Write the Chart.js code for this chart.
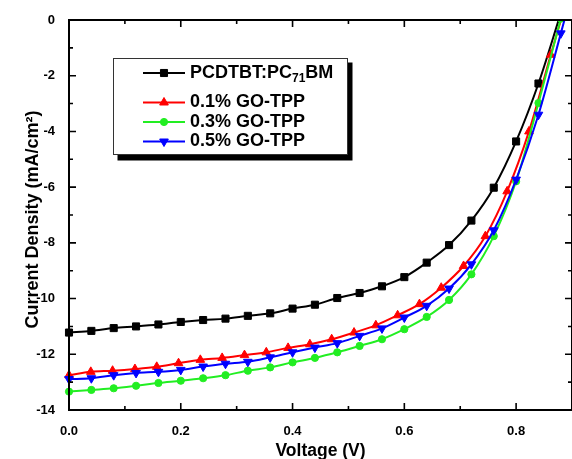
<!DOCTYPE html>
<html>
<head>
<meta charset="utf-8">
<script src="https://cdn.jsdelivr.net/npm/chart.js@4.4.1/dist/chart.umd.min.js"></script>
<style>
  html, body { margin: 0; padding: 0; background: #fff; }
  canvas { display: block; }
</style>
</head>
<body>
<canvas id="c" width="572" height="459"></canvas>
<script>
// ---- data ----
const seriesLabels = ['PCDTBT:PC71BM', '0.1% GO-TPP', '0.3% GO-TPP', '0.5% GO-TPP'];
const voltage = [0, 0.04, 0.08, 0.12, 0.16, 0.20, 0.24, 0.28, 0.32, 0.36, 0.40, 0.44,
                 0.48, 0.52, 0.56, 0.60, 0.64, 0.68, 0.72, 0.76, 0.80, 0.84, 0.88, 0.92];
const voltageRed = [0, 0.039, 0.078, 0.118, 0.157, 0.196, 0.235, 0.274, 0.314, 0.353, 0.392, 0.431,
                    0.470, 0.510, 0.549, 0.588, 0.627, 0.666, 0.706, 0.745, 0.784, 0.823, 0.862, 0.902];
const jBlack = [-11.22, -11.16, -11.06, -11.00, -10.93, -10.84, -10.77, -10.72, -10.62, -10.53, -10.36, -10.22,
                -9.98, -9.80, -9.56, -9.23, -8.71, -8.08, -7.20, -6.02, -4.36, -2.28, 0.25];
const jRed = [-12.75, -12.63, -12.59, -12.53, -12.45, -12.32, -12.20, -12.13, -12.03, -11.93, -11.77, -11.64,
              -11.46, -11.22, -10.96, -10.60, -10.20, -9.61, -8.83, -7.76, -6.15, -4.00, -1.25, 1.50];
const jGreen = [-13.34, -13.28, -13.22, -13.13, -13.03, -12.95, -12.86, -12.75, -12.59, -12.47, -12.29, -12.13,
                -11.93, -11.70, -11.46, -11.10, -10.66, -10.05, -9.13, -7.76, -5.79, -2.98, 0.05];
const jBlue = [-12.89, -12.86, -12.75, -12.67, -12.63, -12.56, -12.44, -12.34, -12.27, -12.11, -11.93, -11.76,
               -11.60, -11.34, -11.07, -10.68, -10.26, -9.64, -8.77, -7.55, -5.73, -3.40, -0.48, 2.50];
const xTicks = [0, 0.1, 0.2, 0.3, 0.4, 0.5, 0.6, 0.7, 0.8, 0.9];
const xTickLabels = ['0.0', '', '0.2', '', '0.4', '', '0.6', '', '0.8', ''];
const yTicks = [-14, -13, -12, -11, -10, -9, -8, -7, -6, -5, -4, -3, -2, -1, 0];
const yTickLabels = ['-14', '', '-12', '', '-10', '', '-8', '', '-6', '', '-4', '', '-2', '', '0'];

const FONT = '"Liberation Sans", Arial, Helvetica, sans-serif';

function pts(xs, ys) { return ys.map((v, i) => ({ x: xs[i], y: v })); }

const styles = [
  { color: '#000000', pointStyle: 'rect', r: 5, rot: 0 },
  { color: '#ff0000', pointStyle: 'triangle', r: 5, rot: 0 },
  { color: '#22ee22', pointStyle: 'circle', r: 3.6, rot: 0 },
  { color: '#0000ff', pointStyle: 'triangle', r: 5, rot: 180 }
];
const seriesData = [pts(voltage, jBlack), pts(voltageRed, jRed), pts(voltage, jGreen), pts(voltage, jBlue)];

const datasets = seriesLabels.map((lab, i) => ({
  label: lab,
  data: seriesData[i],
  borderColor: styles[i].color,
  backgroundColor: styles[i].color,
  pointBackgroundColor: styles[i].color,
  pointBorderColor: styles[i].color,
  pointStyle: styles[i].pointStyle,
  pointRotation: styles[i].rot,
  pointRadius: styles[i].r,
  pointBorderWidth: 1,
  borderWidth: 2,
  cubicInterpolationMode: 'monotone',
  order: 3 - i,
  clip: { left: 10, top: 0, right: 0, bottom: 10 }
}));

const framePlugin = {
  id: 'frame',
  afterDatasetsDraw(chart) {
    const { ctx, chartArea: a, scales: { x, y } } = chart;
    ctx.save();
    ctx.strokeStyle = '#000';
    ctx.lineWidth = 2;
    ctx.strokeRect(a.left, a.top, a.right - a.left, a.bottom - a.top);
    ctx.lineWidth = 1.6;
    xTicks.forEach((v, i) => {
      const px = x.getPixelForValue(v);
      const len = xTickLabels[i] !== '' ? 7 : 4;
      ctx.beginPath();
      ctx.moveTo(px, a.bottom); ctx.lineTo(px, a.bottom - len);
      ctx.moveTo(px, a.top); ctx.lineTo(px, a.top + len);
      ctx.stroke();
    });
    yTicks.forEach((v, i) => {
      const py = y.getPixelForValue(v);
      const len = yTickLabels[i] !== '' ? 7 : 4;
      ctx.beginPath();
      ctx.moveTo(a.left, py); ctx.lineTo(a.left + len, py);
      ctx.moveTo(a.right, py); ctx.lineTo(a.right - len, py);
      ctx.stroke();
    });

    // legend box with shadow
    const bx = 113.5, by = 58.5, bw = 234, bh = 96;
    ctx.fillStyle = '#000';
    ctx.fillRect(bx + 4, by + 4, bw + 1, bh + 2);
    ctx.fillStyle = '#fff';
    ctx.fillRect(bx, by, bw, bh);
    ctx.strokeStyle = '#333';
    ctx.lineWidth = 1;
    ctx.strokeRect(bx, by, bw, bh);

    const rowY = [73, 102.5, 122, 141.5];
    chart.data.datasets.forEach((ds, i) => {
      const yy = rowY[i];
      ctx.strokeStyle = ds.borderColor;
      ctx.lineWidth = 2;
      ctx.beginPath(); ctx.moveTo(143, yy); ctx.lineTo(185, yy); ctx.stroke();
      ctx.fillStyle = ds.borderColor;
      ctx.strokeStyle = ds.borderColor;
      ctx.lineWidth = 1;
      Chart.helpers.drawPoint(ctx, { pointStyle: ds.pointStyle, rotation: ds.pointRotation, radius: ds.pointRadius, borderWidth: 1 }, 164, yy);
      ctx.fillStyle = '#000';
      ctx.textBaseline = 'middle';
      ctx.textAlign = 'left';
      const m = ds.label.match(/^(.*PC)(\d+)(BM)$/);
      let tx = 190;
      if (m) {
        ctx.font = 'bold 18px ' + FONT;
        ctx.fillText(m[1], tx, yy);
        tx += ctx.measureText(m[1]).width;
        ctx.font = 'bold 12px ' + FONT;
        ctx.fillText(m[2], tx, yy + 6);
        tx += ctx.measureText(m[2]).width;
        ctx.font = 'bold 18px ' + FONT;
        ctx.fillText(m[3], tx, yy);
      } else {
        ctx.font = 'bold 18px ' + FONT;
        ctx.fillText(ds.label, tx, yy);
      }
    });
    ctx.restore();
  }
};

new Chart(document.getElementById('c'), {
  type: 'line',
  data: { datasets },
  options: {
    responsive: false,
    animation: false,
    devicePixelRatio: 1,
    layout: { autoPadding: false, padding: { top: 20, right: 0, left: 0, bottom: 0 } },
    plugins: { legend: { display: false }, tooltip: { enabled: false } },
    scales: {
      x: {
        type: 'linear', min: 0, max: 0.9,
        afterBuildTicks: s => { s.ticks = xTicks.map(v => ({ value: v })); },
        afterFit: s => { s.height = 49; s.paddingLeft = 0; s.paddingRight = 0; },
        grid: { display: false, drawTicks: false },
        border: { display: false },
        ticks: {
          autoSkip: false, maxRotation: 0, padding: 14, color: '#000',
          font: { family: FONT, size: 13, weight: 'bold' },
          callback: (v, i) => xTickLabels[i]
        },
        title: {
          display: true, text: 'Voltage (V)', color: '#000',
          font: { family: FONT, size: 17.5, weight: 'bold', lineHeight: 0.8 },
          padding: { top: 0, bottom: 1 }
        }
      },
      y: {
        type: 'linear', min: -14, max: 0,
        afterBuildTicks: s => { s.ticks = yTicks.map(v => ({ value: v })); },
        afterFit: s => { s.width = 69; s.paddingTop = 0; s.paddingBottom = 0; },
        grid: { display: false, drawTicks: false },
        border: { display: false },
        ticks: {
          autoSkip: false, padding: 14, color: '#000',
          font: { family: FONT, size: 13, weight: 'bold' },
          callback: (v, i) => yTickLabels[i]
        },
        title: {
          display: true, text: 'Current Density (mA/cm²)\u2002', color: '#000',
          font: { family: FONT, size: 18, weight: 'bold', lineHeight: 1.2 },
          padding: { top: 22, bottom: 0 }
        }
      }
    }
  },
  plugins: [framePlugin]
});
</script>
</body>
</html>
